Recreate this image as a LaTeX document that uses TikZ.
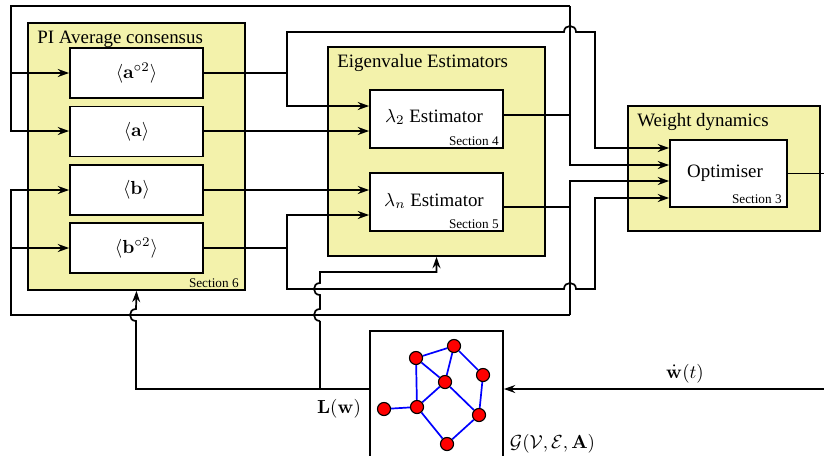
\documentclass[tikz,border=0pt]{standalone}
\usepackage[no-math]{fontspec}
\setmainfont{Liberation Serif}
\usetikzlibrary{arrows.meta,backgrounds}
\definecolor{pale}{RGB}{243,242,171}
\begin{document}
\begin{tikzpicture}[x=0.529pt,y=-0.529pt,
  wire/.style={line width=0.9pt},
  thickw/.style={line width=1.45pt},
  arr/.style={-{Stealth[length=6pt,width=4.2pt,inset=2pt]}},
  group/.style={draw, line width=0.9pt, fill=pale, inner sep=0pt},
  block/.style={draw, line width=0.9pt, fill=white, inner sep=0pt, minimum width=70.36pt},
  lbl/.style={inner sep=0pt},
  sec/.style={inner sep=0pt, anchor=base east, font=\fontsize{7}{8}\selectfont},
  gnode/.style={circle, draw, line width=0.6pt, fill=red, minimum size=6.9pt, inner sep=0pt},
  gedge/.style={blue, line width=0.9pt}]
\useasboundingbox (0,0) rectangle (824,455);
\clip (0,0) rectangle (824,455);

% group boxes
\node[group, minimum width=114.79pt, minimum height=141.24pt] (PI) at (136.5,156.5) {};
\node[group, minimum width=114.79pt, minimum height=110.56pt] (Eig) at (436.5,151.5) {};
\node[group, minimum width=101.57pt, minimum height=66.13pt] (WD) at (724,168.5) {};

\node[lbl, anchor=base west] (tPI) at (37,43) {PI Average consensus};
\node[lbl, anchor=base west] (tEig) at (337,67) {Eigenvalue Estimators};
\node[lbl, anchor=base west] (tWD) at (637,126) {Weight dynamics};
\node[sec] (s6) at (239,287) {Section 6};

% blocks
\node[block, minimum height=26.45pt] (A2) at (136.5,73) {$\langle\mathbf{a}^{\circ 2}\rangle$};
\node[block, minimum height=26.45pt] (A) at (136.5,131.5) {$\langle\mathbf{a}\rangle$};
\node[block, minimum height=26.45pt] (B) at (136.5,190) {$\langle\mathbf{b}\rangle$};
\node[block, minimum height=26.45pt] (B2) at (136.5,248) {$\langle\mathbf{b}^{\circ 2}\rangle$};

\node[block, minimum height=30.68pt] (L2) at (436.5,119) {};
\node[lbl] (tL2) at (434,117) {$\lambda_2$ Estimator};
\node[sec] (s4) at (499,145) {Section 4};
\node[block, minimum height=30.68pt] (Ln) at (436.5,202) {};
\node[lbl] (tLn) at (434,201) {$\lambda_n$ Estimator};
\node[sec] (s5) at (499,228) {Section 5};

\node[block, minimum width=61.89pt, minimum height=35.44pt] (Opt) at (728.5,173.5) {};
\node[lbl] (tOpt) at (725,173) {Optimiser};
\node[sec] (s3) at (782,203) {Section 3};

\node[block, fill=none, minimum height=74.06pt] (G) at (436.5,401) {};

% graph
\node[gnode] (g1) at (416,358) {};
\node[gnode] (g2) at (454,346) {};
\node[gnode] (g3) at (483,375) {};
\node[gnode] (g4) at (445,382) {};
\node[gnode] (g5) at (384,409) {};
\node[gnode] (g6) at (417,407) {};
\node[gnode] (g7) at (479,415) {};
\node[gnode] (g8) at (447,444) {};
\begin{pgfonlayer}{background}
\draw[gedge] (g1) -- (g2);
\draw[gedge] (g1) -- (g4);
\draw[gedge] (g1) -- (g6);
\draw[gedge] (g2) -- (g4);
\draw[gedge] (g2) -- (g3);
\draw[gedge] (g3) -- (g7);
\draw[gedge] (g4) -- (g6);
\draw[gedge] (g4) -- (g7);
\draw[gedge] (g5) -- (g6);
\draw[gedge] (g6) -- (g8);
\draw[gedge] (g8) -- (g7);
\end{pgfonlayer}

% lambda2 loop
\draw[wire] (L2.east |- 0,115) -- (570,115);
\draw[wire,arr] (570,6) -- (570,165) -- (Opt.west |- 0,165);
\draw[wire,arr] (570,6) -- (11,6) -- (11,131) -- (A.west |- 0,131);
\draw[thickw,arr] (11,73) -- (A2.west);

% a^2 output
\draw[wire] (A2.east) -- (287,73);
\draw[wire,arr] (287,73) -- (287,106) -- (L2.west |- 0,106);
\draw[wire,arr] (287,73) -- (287,32) -- (564,32) .. controls (564,24) and (576,24) .. (576,32) -- (595,32) -- (595,148) -- (Opt.west |- 0,148);

% a and b
\draw[thickw,arr] (A.east |- 0,131) -- (L2.west |- 0,131);
\draw[thickw,arr] (B.east) -- (Ln.west |- 0,190);

% b^2 output
\draw[wire] (B2.east) -- (287,248);
\draw[wire,arr] (287,248) -- (287,215) -- (Ln.west |- 0,215);
\draw[wire,arr] (287,248) -- (287,289) -- (564,289) .. controls (564,281) and (576,281) .. (576,289) -- (595,289) -- (595,198) -- (Opt.west |- 0,198);

% lambda_n loop
\draw[wire] (Ln.east |- 0,207) -- (570,207);
\draw[wire,arr] (570,315) -- (570,181) -- (Opt.west |- 0,181);
\draw[wire,arr] (570,315) -- (11,315) -- (11,190) -- (B.west);
\draw[thickw,arr] (11,248) -- (B2.west);

% L(w)
\coordinate (lw) at (320,389);
\draw[wire,arr] (G.west |- 0,389) -- (136,389) -- (136,321) .. controls (128,321) and (128,309) .. (136,309) -- (PI.south);
\draw[thickw] (lw) -- (320,321);
\draw[wire,arr] (320,321) .. controls (312,321) and (312,309) .. (320,309) -- (320,295) .. controls (312,295) and (312,283) .. (320,283) -- (320,272) -- (436.5,272) -- (Eig.south);
\node[lbl, anchor=base] (tLw) at (339,413) {$\mathbf{L}(\mathbf{w})$};

% w dot
\coordinate (wd) at (824,389);
\draw[wire,arr] (wd) -- (G.east |- 0,389);
\node[lbl, anchor=base] (twd) at (685,378) {$\dot{\mathbf{w}}(t)$};
\node[lbl, anchor=base] (tG) at (552.5,448) {$\mathcal{G}(\mathcal{V},\mathcal{E},\mathbf{A})$};

% optimiser output
\coordinate (out) at (824,173.5);
\draw[wire] (Opt.east) -- (out);
\end{tikzpicture}
\end{document}
